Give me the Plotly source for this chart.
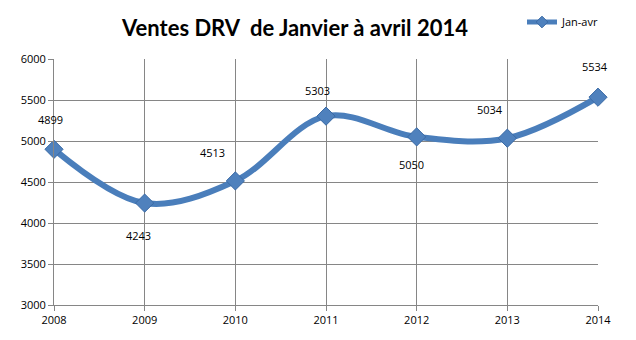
import plotly.graph_objects as go

years = [2008, 2009, 2010, 2011, 2012, 2013, 2014]
ventes = [4899, 4243, 4513, 5303, 5050, 5034, 5534]
series_name = "Jan-avr"
title = "Ventes DRV  de Janvier à avril 2014"

# label offsets (style, px)
label_dx = [-4, -6, -23, -9, -5, -17, -3]
label_dy = [30, -32, 28, 26, -28, 29, 31]

BLUE = "#4A7EBB"
GRID = "#868686"

fig = go.Figure()
fig.add_trace(go.Scatter(
    x=years, y=ventes, name=series_name, showlegend=False,
    mode="lines+markers",
    line=dict(color=BLUE, width=6, shape="spline", smoothing=1.0),
    marker=dict(symbol="diamond", size=14, color="#4F81BD",
                line=dict(color="#3A6AA5", width=1)),
    cliponaxis=False,
))
# legend entry (smaller symbol, as in the reference legend)
fig.add_trace(go.Scatter(
    x=[None], y=[None], name=series_name, mode="lines+markers",
    line=dict(color=BLUE, width=5),
    marker=dict(symbol="diamond", size=9, color="#4F81BD",
                line=dict(color="#3A6AA5", width=1)),
))

for x, y, dx, dy in zip(years, ventes, label_dx, label_dy):
    fig.add_annotation(x=x, y=y, text=str(y), showarrow=False,
                       xshift=dx, yshift=dy,
                       font=dict(family="Open Sans", size=11, color="#000000"))

fig.update_layout(
    width=636, height=340,
    margin=dict(l=54, r=38, t=59, b=35, autoexpand=False),
    paper_bgcolor="white", plot_bgcolor="white",
    title=dict(text="<b>" + title + "</b>", x=295 / 636, xanchor="center",
               xref="container", yref="container",
               y=1 - 28 / 340, yanchor="middle",
               font=dict(family="Lato", size=22, color="#000000")),
    showlegend=True,
    legend=dict(x=522 / 636, y=1 - 22 / 340, xref="container", yref="container",
                xanchor="left", yanchor="middle",
                font=dict(family="Open Sans", size=11, color="#000000"),
                bgcolor="rgba(0,0,0,0)", itemwidth=30),
    font=dict(family="Open Sans", size=11, color="#000000"),
)
fig.update_xaxes(range=[2008, 2014], tickmode="array", tickvals=years,
                 ticktext=[str(y) for y in years],
                 showgrid=True, gridcolor=GRID, gridwidth=1,
                 showline=True, linecolor=GRID, linewidth=1,
                 ticks="outside", ticklen=5, tickcolor=GRID,
                 zeroline=False, tickfont=dict(size=11))
fig.update_yaxes(range=[3000, 6000], dtick=500,
                 showgrid=True, gridcolor=GRID, gridwidth=1,
                 showline=True, linecolor=GRID, linewidth=1,
                 ticks="outside", ticklen=5, tickcolor=GRID,
                 zeroline=False, tickfont=dict(size=11))

fig.write_html("out.html")
